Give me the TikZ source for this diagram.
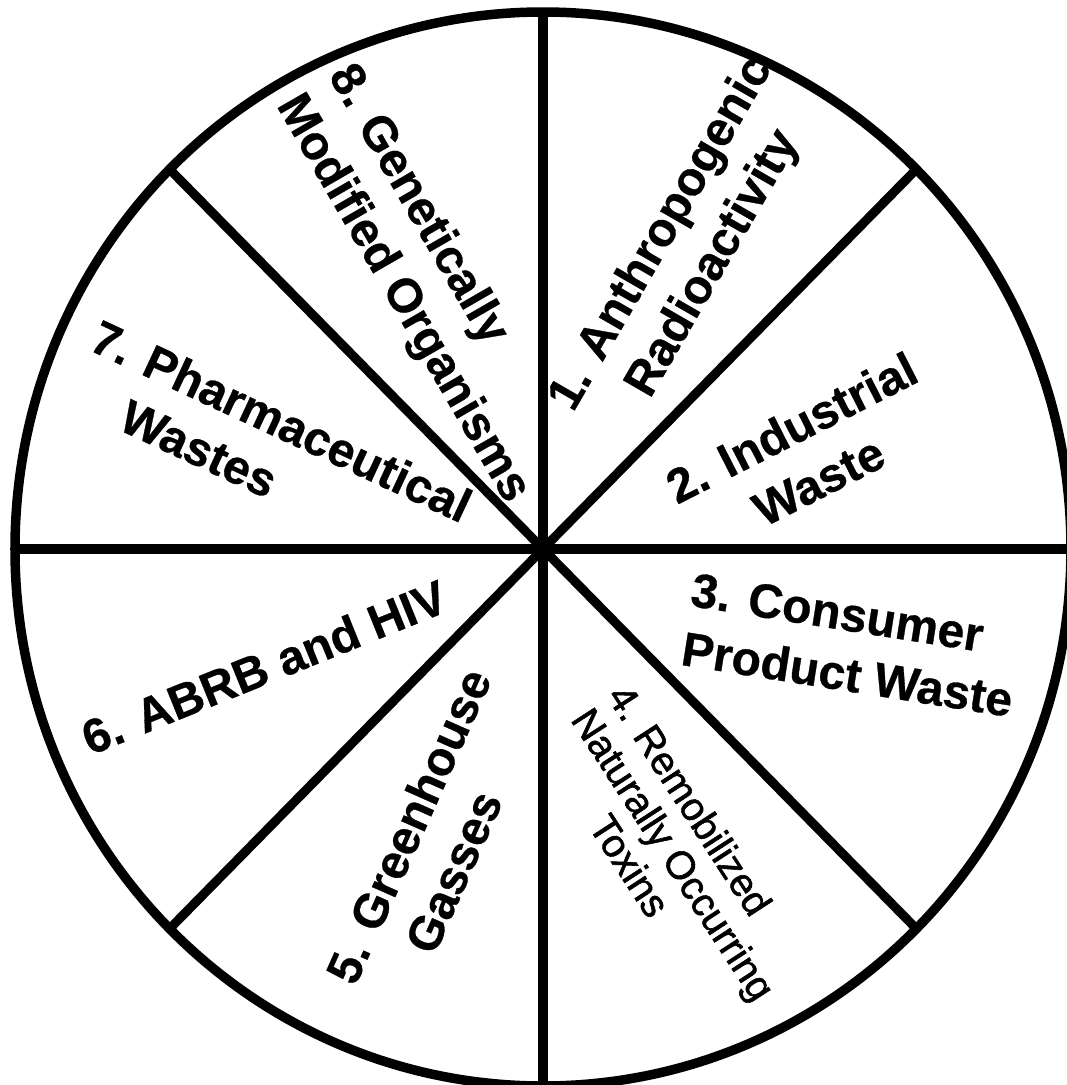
\documentclass[tikz,border=0pt]{standalone}
\usepackage{fontspec}
\setmainfont{Liberation Sans}
\newfontfamily\lblfont{Liberation Sans}[FakeBold=0.6]
\newfontfamily\thinlblfont{Liberation Sans}[FakeBold=1.4]

\begin{document}
\begin{tikzpicture}[
  rim/.style={line width=5.4pt},
  spoke/.style={line width=5.2pt},
  lbl/.style={inner sep=0pt, align=center, font=\fontsize{27.3}{34}\lblfont\bfseries},
  lblsmall/.style={inner sep=0pt, align=left, font=\fontsize{22.5}{24.5}\thinlblfont}
]
\useasboundingbox (-10.86,-10.72) rectangle (10.48,10.98);
% wheel
\foreach \a in {0,45,...,315}
  \draw[spoke] (0,0) -- (\a:10.56cm and 10.74cm);
\draw[rim] (0,0) ellipse [x radius=10.56cm, y radius=10.74cm];
% Labels
\node[lbl, rotate=60] (radio) at (2.90,6.00) {1. Anthropogenic\\Radioactivity};
\node[lbl, rotate=27] (industrial) at (5.24,1.90) {2. Industrial\\Waste};
\node[lbl, align=left, rotate=-9] (consumer) at (6.18,-1.92) {3. Consumer\\Product Waste};
\node[lblsmall, rotate=-57] (toxins) at (2.62,-6.10) {4. Remobilized\\Naturally Occurring\\\hspace*{2.5em}Toxins};
\node[lbl, align=left, rotate=66] (greenhouse) at (-2.15,-5.78) {5. Greenhouse\\\hspace*{1.25em}Gasses};
\node[lbl, rotate=22] (abrb) at (-5.58,-2.36) {6. ABRB and HIV};
\node[lbl, align=left, rotate=-25] (pharma) at (-5.48,2.02) {7. Pharmaceutical\\\hspace*{1.25em}Wastes};
\node[lbl, align=left, rotate=-60] (gmo) at (-2.30,5.30) {8. Genetically\\Modified Organisms};
\end{tikzpicture}
\end{document}
